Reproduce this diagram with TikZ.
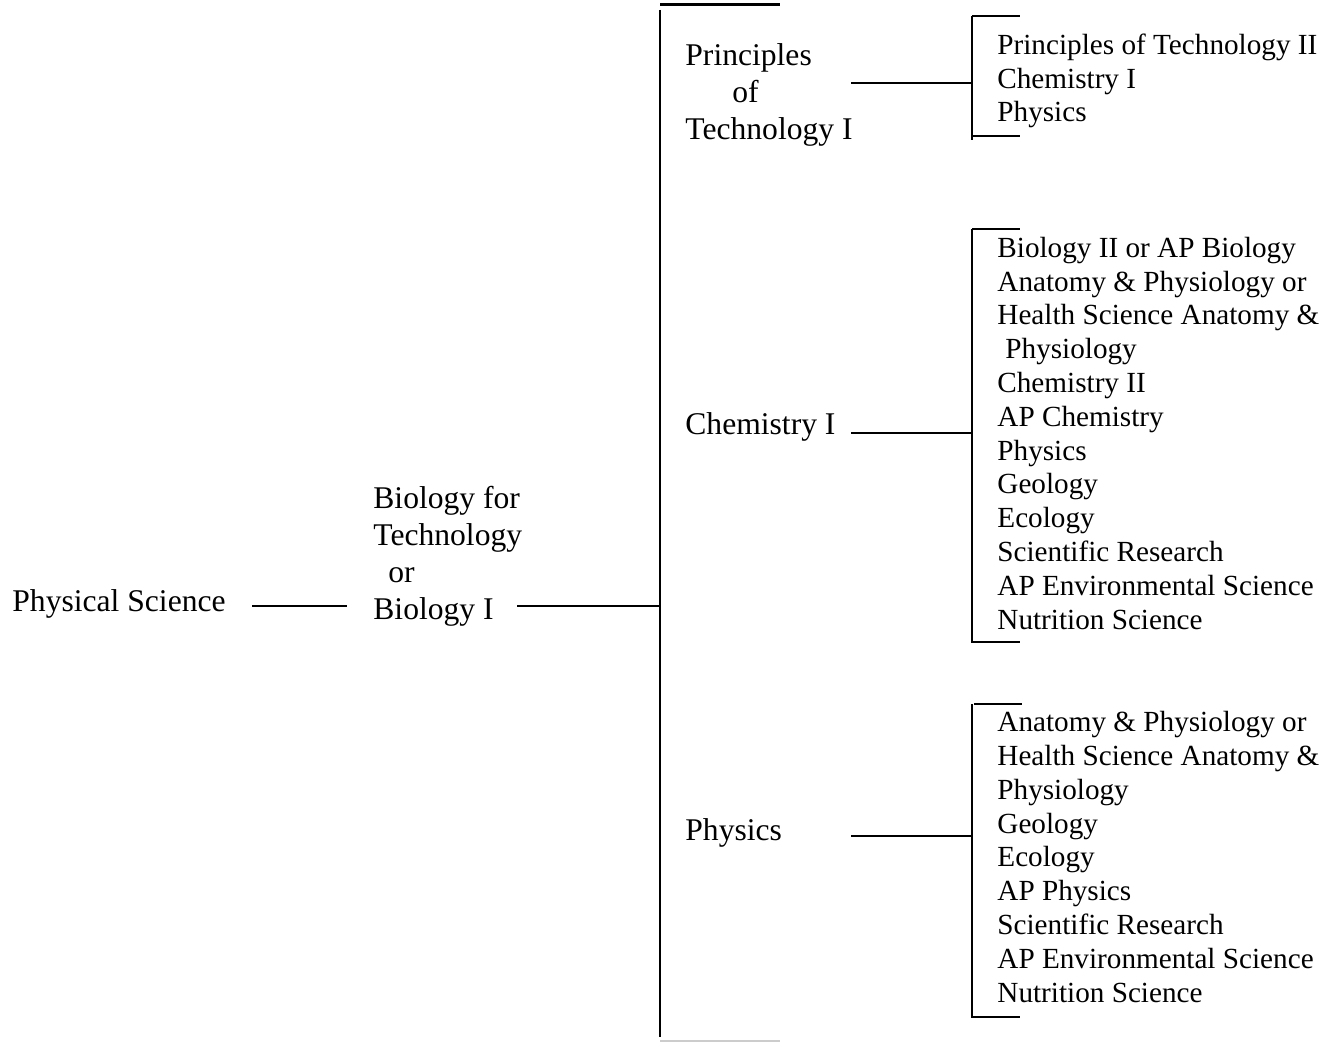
\documentclass[tikz,border=0pt]{standalone}
\usepackage{fontspec}
\setmainfont{Liberation Serif}
\tikzset{
  rule/.style = {line width=1pt, black},
  capline/.style = {line width=1.5pt, black},
  lbl/.style = {anchor=base west, inner sep=0pt, align=left, font=\fontsize{15.8}{18.5}\selectfont},
  lst/.style = {anchor=base west, inner sep=0pt, align=left, font=\fontsize{14.6}{16.9}\selectfont},
}

\begin{document}
\begin{tikzpicture}[x=0.5pt, y=-0.5pt]
  \useasboundingbox (0,0) rectangle (1336,1042);

  % first two years (nodes sit on the baseline of their last line)
  \node [lbl] (phys) at (12,611) {Physical Science};
  \node [lbl] (bio) at (373,619) {Biology for\\Technology\\\hspace*{7.5pt}or\\Biology I};

  % second step
  \node [lbl] (prin1) at (685,140) {Principles\\\hspace*{23.5pt}of\\Technology I};
  \node [lbl] (chem1) at (685,434) {Chemistry I};
  \node [lbl] (phy1) at (685,840) {Physics};

  % later courses
  \node [lst] (prin2) at (997,122) {Principles of Technology II\\Chemistry I\\Physics};
  \node [lst] (chem2) at (997,629) {Biology II or AP Biology\\
    Anatomy \& Physiology or\\Health Science Anatomy \&\\
    \hspace*{4pt}Physiology\\Chemistry II\\AP Chemistry\\Physics\\Geology\\Ecology\\
    Scientific Research\\AP Environmental Science\\Nutrition Science};
  \node [lst] (phy2) at (997,1002) {Anatomy \& Physiology or\\
    Health Science Anatomy \&\\Physiology\\Geology\\Ecology\\AP Physics\\
    Scientific Research\\AP Environmental Science\\Nutrition Science};

  % join points
  \coordinate (phys-r) at (252,606);
  \coordinate (bio-l) at (347,606);
  \coordinate (bio-r) at (517,606);
  \coordinate (spine-c) at (660,606);
  \coordinate (spine-t) at (660,10);
  \coordinate (spine-b) at (660,1037);
  \coordinate (prin1-r) at (851,83);
  \coordinate (chem1-r) at (851,433);
  \coordinate (phy1-r) at (851,836);
  \coordinate (prin2-t) at (972,16);
  \coordinate (prin2-b) at (972,140);
  \coordinate (chem2-t) at (972,229);
  \coordinate (chem2-b) at (972,642);
  \coordinate (phy2-t) at (972,704);
  \coordinate (phy2-b) at (972,1017);

  \draw [rule] (phys-r) -- (bio-l);
  \draw [rule] (bio-r) -- (spine-c);
  \draw [rule] (spine-t) -- (spine-b);
  \draw [capline] ([yshift=2.5pt]spine-t) -- ++(120,0);
  \draw [line width=0.6pt, black!20] ([yshift=-2pt]spine-b) -- ++(120,0);

  \draw [rule] (prin1-r) -- (prin1-r -| prin2-t);
  \draw [rule] (chem1-r) -- (chem1-r -| chem2-t);
  \draw [rule] (phy1-r) -- (phy1-r -| phy2-t);

  \draw [rule] (prin2-t) -- (prin2-b);
  \draw [rule] (prin2-t) -- ++(48,0);
  \draw [rule] ([yshift=2pt]prin2-b) -- ++(48,0);
  \draw [rule] (chem2-t) -- (chem2-b) -- ++(48,0);
  \draw [rule] (chem2-t) -- ++(48,0);
  \draw [rule] (phy2-t) -- (phy2-b) -- ++(48,0);
  \draw [rule] ([xshift=1pt]phy2-t) -- ++(48,0);
\end{tikzpicture}
\end{document}
